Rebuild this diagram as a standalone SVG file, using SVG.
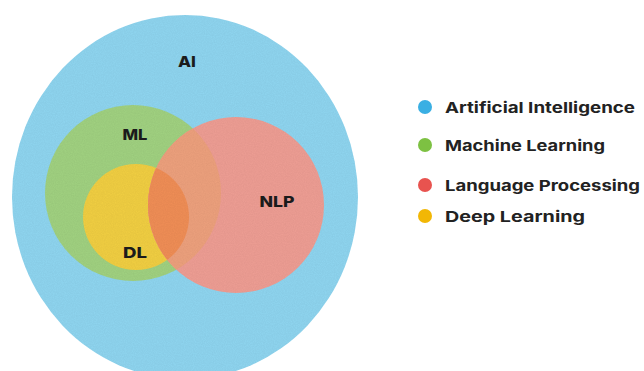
<svg xmlns="http://www.w3.org/2000/svg" width="644" height="371" viewBox="0 0 644 371">
  <defs>
    <clipPath id="clip-nlp"><circle cx="236" cy="205" r="88"/></clipPath>
    <filter id="canvas" x="0" y="0" width="100%" height="100%">
      <feTurbulence type="fractalNoise" baseFrequency="0.9" numOctaves="2" seed="3" result="n"/>
      <feColorMatrix in="n" type="matrix" values="0 0 0 0 0  0 0 0 0 0  0 0 0 0 0  0 0 0 0.06 0" result="shade"/>
      <feComposite in="shade" in2="SourceGraphic" operator="in"/>
    </filter>
  </defs>
  <style>
    .lbl { font-family: "Inter", "Liberation Sans", sans-serif; font-weight: 800; fill: #1c1c1c; text-anchor: middle; }
    .set { font-size: 14.5px; }
    .key { font-family: "Inter", "Liberation Sans", sans-serif; font-weight: 700; fill: #222; font-size: 15px; }
    .ai { fill: #8fd6f1; }
    .ml { fill: #a1d281; }
    .dl { fill: #f2cf42; }
    .nlp { fill: #ef9e94; }
  </style>
  <rect width="644" height="371" fill="#ffffff"/>

  <!-- Venn sets -->
  <g id="ai">
    <ellipse class="ai" cx="185" cy="197" rx="173" ry="182"/>
    <text class="lbl set" x="187" y="67" textLength="18" lengthAdjust="spacingAndGlyphs">AI</text>
  </g>
  <g id="ml">
    <circle class="ml" cx="133" cy="193" r="88"/>
    <text class="lbl set" x="135" y="140" textLength="25" lengthAdjust="spacingAndGlyphs">ML</text>
  </g>
  <g id="dl">
    <circle class="dl" cx="136" cy="217" r="53"/>
    <text class="lbl set" x="135" y="258" textLength="24" lengthAdjust="spacingAndGlyphs">DL</text>
  </g>
  <g id="nlp">
    <circle class="nlp" cx="236" cy="205" r="88"/>
    <!-- overlaps of NLP with ML and DL -->
    <g clip-path="url(#clip-nlp)">
      <circle cx="133" cy="193" r="88" fill="#eea17d"/>
      <circle cx="136" cy="217" r="53" fill="#f18e56"/>
    </g>
    <text class="lbl set" x="277" y="207" textLength="35" lengthAdjust="spacingAndGlyphs">NLP</text>
  </g>

  <!-- canvas grain over the sets -->
  <ellipse cx="185" cy="197" rx="173" ry="182" fill="#000" filter="url(#canvas)"/>

  <!-- legend -->
  <g id="legend-ai">
    <circle cx="425" cy="107" r="7" fill="#3aafe3"/>
    <text class="key" x="445" y="112.5" textLength="190" lengthAdjust="spacingAndGlyphs">Artificial Intelligence</text>
  </g>
  <g id="legend-ml">
    <circle cx="425" cy="145" r="7" fill="#7dc142"/>
    <text class="key" x="445" y="150.5" textLength="160" lengthAdjust="spacingAndGlyphs">Machine Learning</text>
  </g>
  <g id="legend-nlp">
    <circle cx="425" cy="185" r="7" fill="#e8534f"/>
    <text class="key" x="445" y="190.5" textLength="195" lengthAdjust="spacingAndGlyphs">Language Processing</text>
  </g>
  <g id="legend-dl">
    <circle cx="425" cy="216" r="7" fill="#f2b705"/>
    <text class="key" x="445" y="221.5" textLength="140" lengthAdjust="spacingAndGlyphs">Deep Learning</text>
  </g>
</svg>
